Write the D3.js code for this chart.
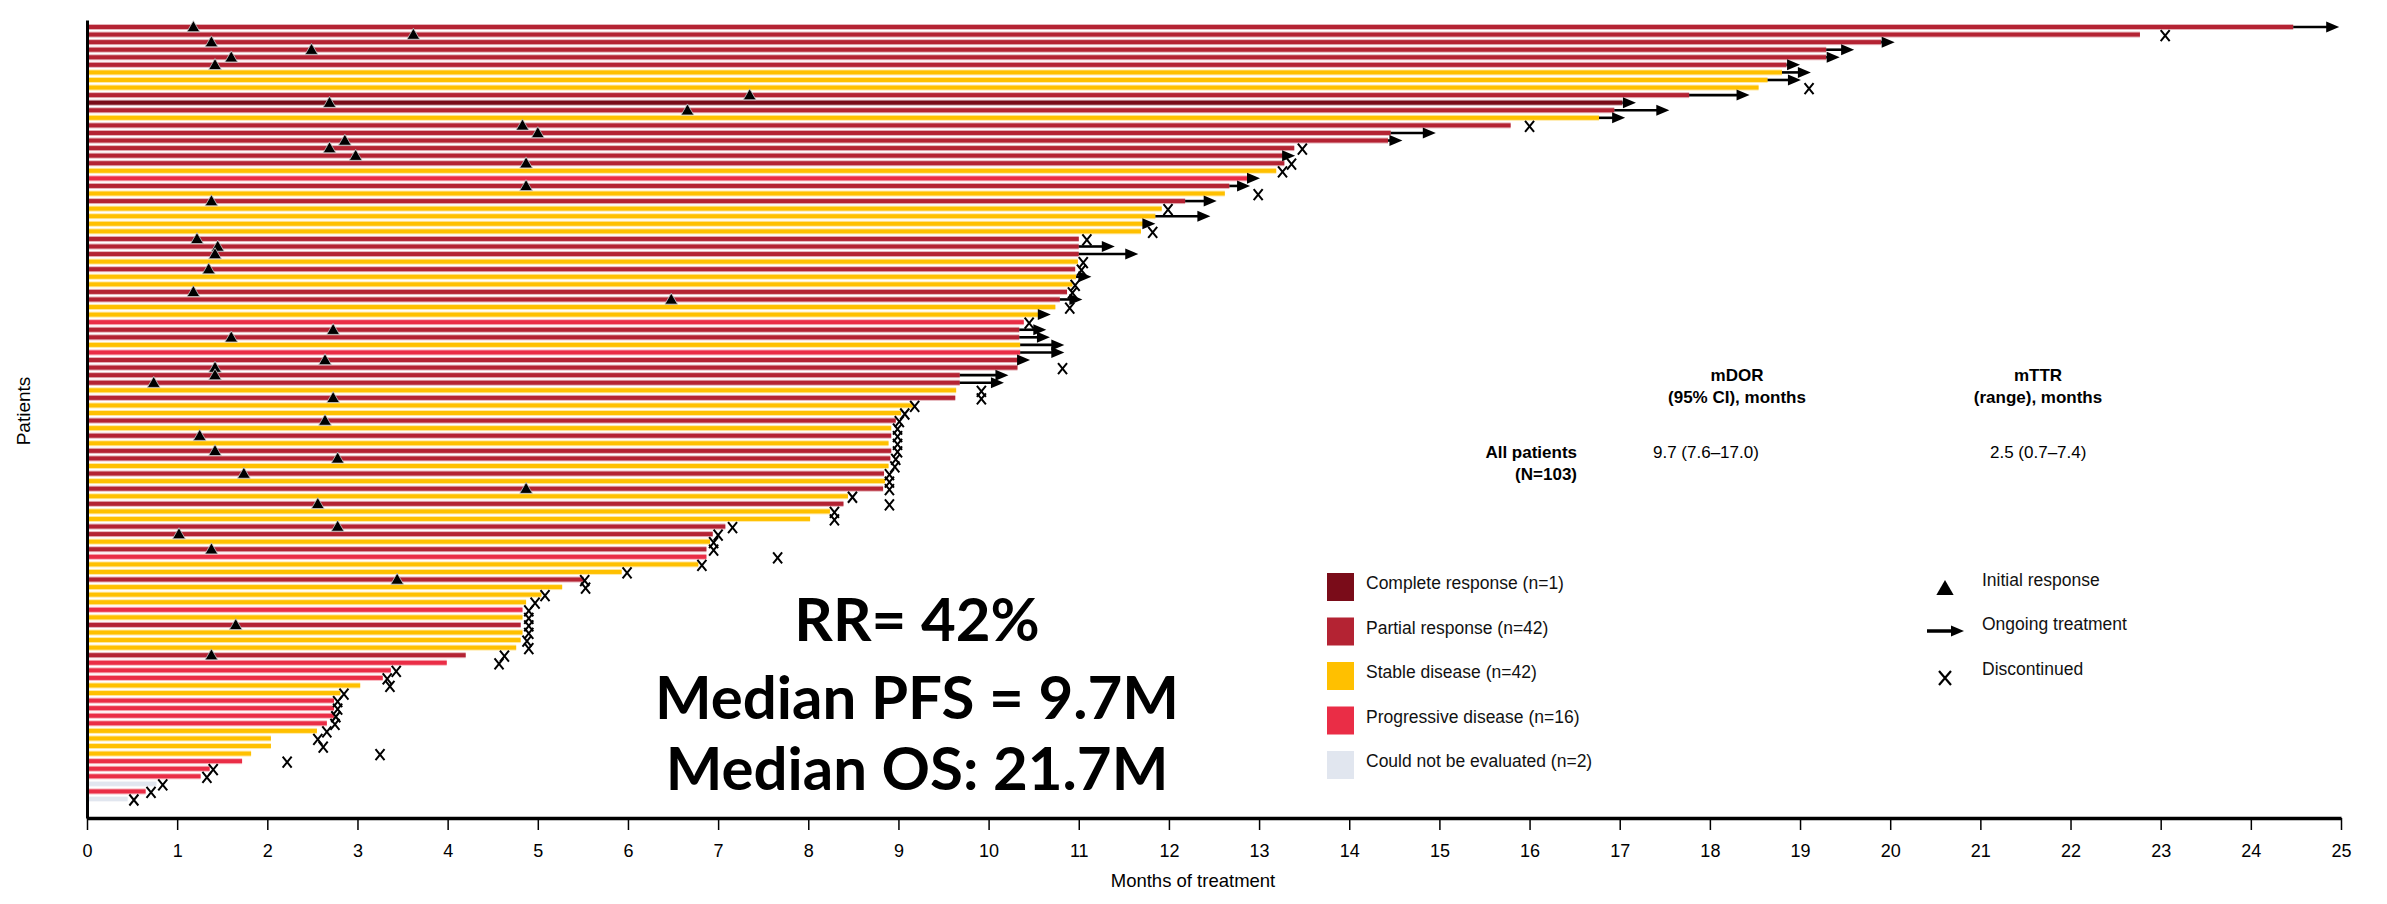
<!DOCTYPE html>
<html>
<head>
<meta charset="utf-8">
<script src="https://cdn.jsdelivr.net/npm/d3@7"></script>
<style>
  html, body { margin: 0; padding: 0; background: #fff; }
  svg { display: block; }
  .narrow { font-family: "Liberation Sans Narrow", "Arial Narrow", "Liberation Sans", Arial, sans-serif; }
  .big { font-family: Lato, "Open Sans", sans-serif; font-weight: 700; }
</style>
</head>
<body>
<svg id="chart" width="2387" height="904"></svg>
<script>
// Best overall response per patient (top = longest time on treatment)
const bestResponse = [
  "PR","PR","PR","PR","PR","PR","SD","SD","SD","PR",
  "CR","PR","SD","PR","PR","PR","PR","PR","PR","SD",
  "PD","PR","SD","PR","SD","SD","SD","SD","PR","PR",
  "PR","SD","PR","SD","SD","PR","PR","SD","SD","PD",
  "PR","PR","SD","PD","PR","PR","PR","PR","SD","PR",
  "SD","SD","PR","SD","PR","SD","PR","PR","SD","PR",
  "SD","PR","SD","PR","SD","SD","PR","PR","SD","PR",
  "PD","SD","SD","PR","SD","SD","SD","PD","SD","PR",
  "SD","SD","SD","PR","PD","PD","PD","SD","SD","PD",
  "PD","PD","PD","SD","SD","SD","SD","PD","PD","PD",
  "NE","PD","NE"
];

// Months on treatment (bar length)
const treatmentMonths = [
  24.47,22.77,19.90,19.29,19.29,18.85,18.80,18.64,18.54,17.77,
  17.03,16.94,16.77,15.79,14.46,14.43,13.39,13.28,13.28,13.19,
  12.88,12.67,12.62,12.18,11.92,11.85,11.73,11.69,11.00,11.00,
  11.00,10.99,10.96,10.97,10.93,10.87,10.79,10.74,10.55,10.39,
  10.34,10.34,10.35,10.35,10.32,10.32,9.68,9.68,9.64,9.63,
  9.16,9.03,8.97,8.92,8.92,8.89,8.92,8.91,8.89,8.84,
  8.85,8.83,8.44,8.39,8.24,8.02,7.08,6.94,6.91,6.87,
  6.87,6.78,5.93,5.51,5.27,5.04,4.87,4.83,4.83,4.81,
  4.83,4.81,4.76,4.20,3.99,3.37,3.28,3.03,2.81,2.74,
  2.74,2.74,2.66,2.55,2.04,2.04,1.82,1.72,1.36,1.26,
  0.77,0.65,0.45
];

// Ongoing treatment: arrow tip (months)
const ongoingTo = [
  24.98,null,20.05,19.60,19.44,19.00,19.12,19.01,null,18.44,
  17.18,17.55,17.06,null,14.96,14.59,null,13.40,null,null,
  13.01,12.90,null,12.53,null,12.46,11.85,null,null,11.40,
  11.66,null,null,11.14,null,null,11.04,null,10.69,null,
  10.64,10.68,10.84,10.84,10.46,null,10.22,10.17,null,null,
  null,null,null,null,null,null,null,null,null,null,
  null,null,null,null,null,null,null,null,null,null,
  null,null,null,null,null,null,null,null,null,null,
  null,null,null,null,null,null,null,null,null,null,
  null,null,null,null,null,null,null,null,null,null,
  null,null,null
];

// Discontinued: time of discontinuation (months)
const discontinuedAt = [
  null,23.05,null,null,null,null,null,null,19.10,null,
  null,null,null,16.00,null,null,13.48,null,13.36,13.26,
  null,null,12.99,null,11.99,null,null,11.82,11.09,null,
  null,11.05,11.03,null,10.96,10.93,null,10.90,null,10.45,
  null,null,null,null,null,10.82,null,null,9.92,9.92,
  9.18,9.07,9.01,8.99,8.99,8.99,8.99,8.97,8.96,8.90,
  8.90,8.90,8.49,8.90,8.29,8.29,7.16,7.00,6.95,6.95,
  7.66,6.82,5.99,5.52,5.53,5.08,4.97,4.90,4.90,4.90,
  4.90,4.88,4.90,4.63,4.57,3.43,3.33,3.36,2.85,2.78,
  2.78,2.76,2.75,2.66,2.56,2.62,3.25,2.22,1.40,1.33,
  0.84,0.71,0.52
];

// Time of initial response (months)
const initialResponseAt = [
  1.18,3.62,1.38,2.49,1.60,1.42,null,null,null,7.35,
  2.69,6.66,null,4.83,5.00,2.86,2.69,2.98,4.87,null,
  null,4.87,null,1.38,null,null,null,null,1.22,1.45,
  1.42,null,1.35,null,null,1.18,6.48,null,null,null,
  2.73,1.60,null,null,2.64,1.42,1.42,0.74,null,2.73,
  null,null,2.64,null,1.25,null,1.42,2.78,null,1.74,
  null,4.87,null,2.56,null,null,2.78,1.02,null,1.38,
  null,null,null,3.44,null,null,null,null,null,1.65,
  null,null,null,1.38,null,null,null,null,null,null,
  null,null,null,null,null,null,null,null,null,null,
  null,null,null
];

const responseKeys = ["CR","PR","SD","PD","NE"];
const responseLabels = [
  "Complete response (n=1)",
  "Partial response (n=42)",
  "Stable disease (n=42)",
  "Progressive disease (n=16)",
  "Could not be evaluated (n=2)"
];
const responseColors = ["#7a0c19","#b42333","#ffc000","#ea2d46","#e1e6ef"];

const monthTicks = d3.range(0, 26);

const tableHeaders = [["mDOR","(95% CI), months"],["mTTR","(range), months"]];
const tableRowLabel = ["All patients","(N=103)"];
const tableValues = ["9.7 (7.6\u201317.0)","2.5 (0.7\u20137.4)"];
const summaryLines = ["RR= 42%","Median PFS = 9.7M","Median OS: 21.7M"];
const markerLabels = ["Initial response","Ongoing treatment","Discontinued"];

// ---------------------------------------------------------------
const svg = d3.select("#chart");
const W = 2387, H = 904;
svg.append("rect").attr("width", W).attr("height", H).attr("fill", "#fff");

const x0 = 87, x1 = 2341, axisY = 818, topY = 20;
const x = d3.scaleLinear().domain([0, 25]).range([x0, x1]);
const patientIdx = d3.range(bestResponse.length);
const y = d3.scalePoint().domain(patientIdx).range([27, 799]);
const color = d3.scaleOrdinal().domain(responseKeys).range(responseColors);

const barH = 4;

// bars
const gBars = svg.append("g");
gBars.selectAll("rect.halo").data(patientIdx).join("rect")
  .attr("x", x(0))
  .attr("y", i => y(i) - barH / 2 - 1)
  .attr("width", i => x(treatmentMonths[i]) - x(0))
  .attr("height", barH + 2)
  .attr("fill", i => color(bestResponse[i]))
  .attr("opacity", 0.35);
gBars.selectAll("rect.bar").data(patientIdx).join("rect")
  .attr("x", x(0))
  .attr("y", i => y(i) - barH / 2)
  .attr("width", i => x(treatmentMonths[i]) - x(0))
  .attr("height", barH)
  .attr("fill", i => color(bestResponse[i]));

// ongoing arrows
const headLen = 13, headHalf = 5.5;
const arrowHead = `M0,${-headHalf}L${headLen},0L0,${headHalf}Z`;
const ongoing = patientIdx.filter(i => ongoingTo[i] != null);
const gArr = svg.append("g");
gArr.selectAll("line").data(ongoing).join("line")
  .attr("x1", i => x(treatmentMonths[i]))
  .attr("x2", i => x(ongoingTo[i]) - headLen + 1)
  .attr("y1", i => y(i)).attr("y2", i => y(i))
  .attr("stroke", "#000").attr("stroke-width", 2.6);
gArr.selectAll("path").data(ongoing).join("path")
  .attr("d", arrowHead)
  .attr("transform", i => `translate(${x(ongoingTo[i]) - headLen},${y(i)})`)
  .attr("fill", "#000");

// discontinued crosses
const crossPath = "M-4.5,-5.5L4.5,5.5M4.5,-5.5L-4.5,5.5";
const disc = patientIdx.filter(i => discontinuedAt[i] != null);
svg.append("g").selectAll("path").data(disc).join("path")
  .attr("d", crossPath)
  .attr("transform", i => `translate(${x(discontinuedAt[i])},${y(i) + 1})`)
  .attr("fill", "none").attr("stroke", "#000").attr("stroke-width", 2);

// initial response triangles
const tri = d3.symbol().type(d3.symbolTriangle).size(70);
const resp = patientIdx.filter(i => initialResponseAt[i] != null);
svg.append("g").selectAll("path").data(resp).join("path")
  .attr("d", tri)
  .attr("transform", i => `translate(${x(initialResponseAt[i])},${y(i) + 1})`)
  .attr("fill", "#000").attr("stroke", "#c8c8c8").attr("stroke-width", 0.8);

// axes
const xAxis = d3.axisBottom(x).tickValues(monthTicks).tickFormat(d3.format("d"))
  .tickSize(12).tickSizeOuter(0).tickPadding(14);
const gx = svg.append("g").attr("transform", `translate(0,${axisY})`).call(xAxis);
gx.select(".domain").attr("stroke", "#000").attr("stroke-width", 3.5);
gx.selectAll(".tick line").attr("stroke", "#000").attr("stroke-width", 1.5);
gx.selectAll(".tick text").attr("class", "narrow").attr("font-size", 18).attr("fill", "#000");

const yLine = d3.scaleLinear().domain([0, 1]).range([axisY, topY]);
const gy = svg.append("g").attr("transform", `translate(${x0},0)`)
  .call(d3.axisLeft(yLine).tickValues([]).tickSizeOuter(0));
gy.select(".domain").attr("stroke", "#000").attr("stroke-width", 3);

svg.append("text").attr("class", "narrow")
  .attr("x", 1193).attr("y", 887).attr("text-anchor", "middle")
  .attr("font-size", 18.5).text("Months of treatment");
svg.append("text").attr("class", "narrow")
  .attr("transform", "translate(30,411) rotate(-90)").attr("text-anchor", "middle")
  .attr("font-size", 19).text("Patients");

// summary statistics
const sumY = [641, 719, 790];
svg.append("g").selectAll("text").data(summaryLines).join("text")
  .attr("class", "big")
  .attr("x", 917).attr("y", (d, i) => sumY[i])
  .attr("text-anchor", "middle").attr("font-size", 60).attr("fill", "#000")
  .text(d => d);

// response-duration table
const colX = [1737, 2038];
tableHeaders.forEach((hdr, c) => {
  hdr.forEach((t, k) => {
    svg.append("text").attr("class", "narrow")
      .attr("x", colX[c]).attr("y", 381 + k * 22).attr("text-anchor", "middle")
      .attr("font-size", 17).attr("font-weight", 700).text(t);
  });
});
tableRowLabel.forEach((t, k) => {
  svg.append("text").attr("class", "narrow")
    .attr("x", 1577).attr("y", 458 + k * 22).attr("text-anchor", "end")
    .attr("font-size", 17).attr("font-weight", 700).text(t);
});
const valX = [1653, 1990];
tableValues.forEach((t, c) => {
  svg.append("text").attr("class", "narrow")
    .attr("x", valX[c]).attr("y", 458).attr("font-size", 17).text(t);
});

// legend: response categories
const legY = d3.scalePoint().domain(responseKeys).range([587, 765]);
const gLeg = svg.append("g");
gLeg.selectAll("rect").data(responseKeys).join("rect")
  .attr("x", 1327).attr("y", d => legY(d) - 14)
  .attr("width", 27).attr("height", 28)
  .attr("fill", d => color(d));
gLeg.selectAll("text").data(responseKeys).join("text")
  .attr("class", "narrow")
  .attr("x", 1366).attr("y", d => legY(d) + 2)
  .attr("font-size", 17.5).attr("fill", "#111")
  .text((d, i) => responseLabels[i]);

// legend: event markers
const mkY = [587, 631, 676];
const gMk = svg.append("g");
gMk.append("path").attr("d", d3.symbol().type(d3.symbolTriangle).size(130))
  .attr("transform", `translate(1945,${mkY[0] + 3})`).attr("fill", "#000");
gMk.append("line").attr("x1", 1927).attr("x2", 1952)
  .attr("y1", mkY[1]).attr("y2", mkY[1]).attr("stroke", "#000").attr("stroke-width", 3.5);
gMk.append("path").attr("d", arrowHead)
  .attr("transform", `translate(1951,${mkY[1]})`).attr("fill", "#000");
gMk.append("path").attr("d", "M-6,-7L6,7M6,-7L-6,7")
  .attr("transform", `translate(1945,${mkY[2] + 2})`)
  .attr("fill", "none").attr("stroke", "#000").attr("stroke-width", 2.2);
gMk.selectAll("text").data(markerLabels).join("text")
  .attr("class", "narrow")
  .attr("x", 1982).attr("y", (d, i) => mkY[i] - 1)
  .attr("font-size", 17.5).attr("fill", "#111")
  .text(d => d);
</script>
</body>
</html>
